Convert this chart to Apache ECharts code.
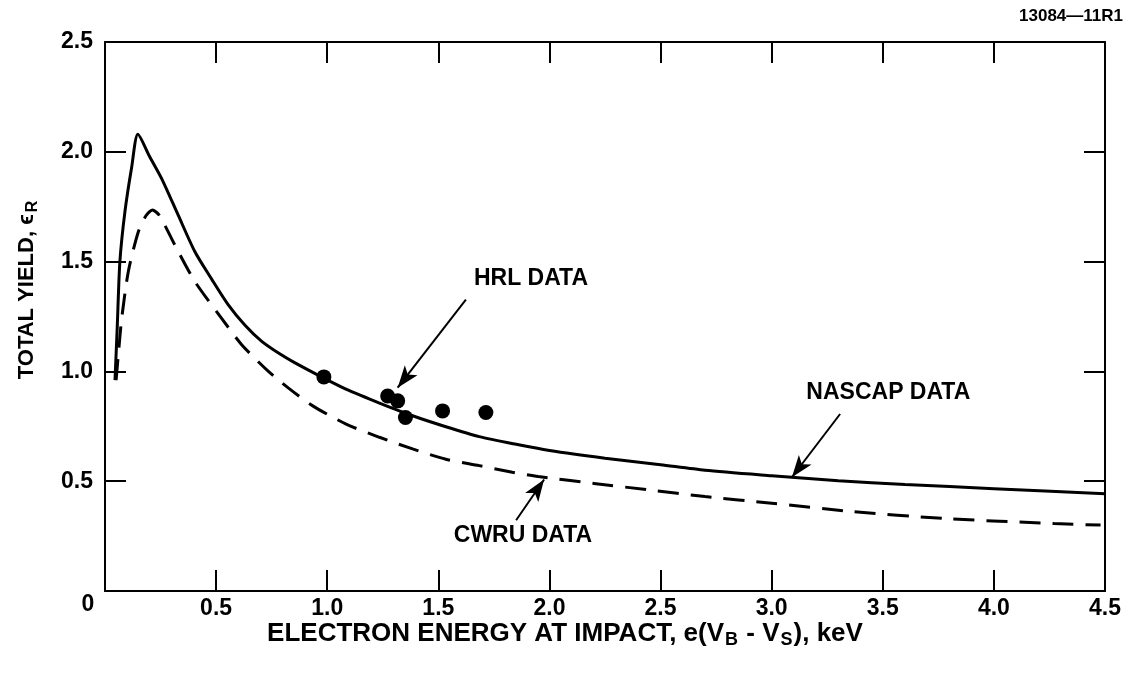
<!DOCTYPE html>
<html>
<head>
<meta charset="utf-8">
<script src="https://cdn.jsdelivr.net/npm/echarts@6/dist/echarts.min.js"></script>
<style>
html,body{margin:0;padding:0;background:#fff;}
#c{width:1135px;height:676px;}
</style>
</head>
<body>
<div id="c"></div>
<script>
// ---- data ----
const xTicks = [0, 0.5, 1.0, 1.5, 2.0, 2.5, 3.0, 3.5, 4.0, 4.5];
const yTicks = [0, 0.5, 1.0, 1.5, 2.0, 2.5];

const nascapX = [0.045, 0.055, 0.067, 0.09, 0.12, 0.148, 0.2, 0.255, 0.33, 0.404, 0.48, 0.554, 0.63, 0.704, 0.786, 0.853, 0.98, 1.1, 1.235, 1.384, 1.534, 1.684, 1.85, 2.0, 2.25, 2.5, 2.7, 3.0, 3.3, 3.6, 4.0, 4.5];
const nascapY = [0.96, 1.2, 1.50, 1.73, 1.93, 2.08, 1.98, 1.878, 1.71, 1.546, 1.42, 1.304, 1.21, 1.138, 1.08, 1.04, 0.972, 0.912, 0.856, 0.798, 0.748, 0.703, 0.668, 0.64, 0.605, 0.575, 0.55, 0.525, 0.502, 0.485, 0.466, 0.443];

const cwruX = [0.05, 0.062, 0.075, 0.105, 0.15, 0.185, 0.213, 0.245, 0.314, 0.404, 0.524, 0.614, 0.733, 0.823, 0.935, 1.085, 1.235, 1.384, 1.534, 1.684, 1.833, 1.95, 2.2, 2.45, 2.7, 3.0, 3.35, 3.78, 4.27, 4.48];
const cwruY = [0.96, 1.1, 1.24, 1.455, 1.636, 1.71, 1.735, 1.71, 1.576, 1.41, 1.243, 1.123, 1.002, 0.926, 0.843, 0.76, 0.70, 0.647, 0.60, 0.571, 0.541, 0.521, 0.49, 0.46, 0.43, 0.40, 0.363, 0.33, 0.307, 0.30];

const hrlX = [0.985, 1.272, 1.317, 1.352, 1.519, 1.714];
const hrlY = [0.975, 0.888, 0.866, 0.79, 0.82, 0.813];

// annotations (data coordinates)
const annoText = ['HRL DATA', 'NASCAP DATA', 'CWRU DATA'];
const annoTextPos = [[1.917, 1.423], [3.525, 0.902], [1.881, 0.254]];
const annoArrowFrom = [[1.624, 1.327], [3.308, 0.806], [1.85, 0.322]];
const annoArrowTo = [[1.317, 0.926], [3.091, 0.518], [1.976, 0.508]];

const zip = (a, b) => a.map((v, i) => [v, b[i]]);
const FONT = '"Liberation Sans", Arial, Helvetica, sans-serif';

const chart = echarts.init(document.getElementById('c'), null, {renderer: 'canvas'});

const axisLineStyle = {color: '#000', width: 2};
const tickStyle = {show: true, inside: true, length: 21, lineStyle: {color: '#000', width: 2}};

const option = {
  backgroundColor: '#fff',
  animation: false,
  grid: {left: 105, top: 42, right: 30, bottom: 85, containLabel: false},
  xAxis: [{
    type: 'value', min: 0, max: 4.5, interval: 0.5, position: 'bottom',
    axisLine: {show: true, onZero: false, lineStyle: axisLineStyle},
    axisTick: tickStyle,
    splitLine: {show: false},
    axisLabel: {
      show: true, margin: 6, color: '#000', fontSize: 23, fontWeight: 'bold', fontFamily: FONT,
      formatter: v => (v === 0 ? '' : v.toFixed(1))
    }
  }, {
    type: 'value', min: 0, max: 4.5, interval: 0.5, position: 'top',
    axisLine: {show: true, onZero: false, lineStyle: axisLineStyle},
    axisTick: tickStyle, axisLabel: {show: false}, splitLine: {show: false}
  }],
  yAxis: [{
    type: 'value', min: 0, max: 2.5, interval: 0.5, position: 'left',
    axisLine: {show: true, onZero: false, lineStyle: axisLineStyle},
    axisTick: tickStyle,
    splitLine: {show: false},
    axisLabel: {
      show: true, margin: 12, color: '#000', fontSize: 23, fontWeight: 'bold', fontFamily: FONT,
      formatter: v => (v === 0 ? '' : v.toFixed(1))
    }
  }, {
    type: 'value', min: 0, max: 2.5, interval: 0.5, position: 'right',
    axisLine: {show: true, onZero: false, lineStyle: axisLineStyle},
    axisTick: tickStyle, axisLabel: {show: false}, splitLine: {show: false}
  }],
  series: [{
    name: 'NASCAP DATA', type: 'line', data: zip(nascapX, nascapY),
    showSymbol: false, smooth: 0.25,
    lineStyle: {color: '#000', width: 3}, z: 3,
    markLine: {
      silent: true, animation: false,
      symbol: ['none', 'arrow'], symbolSize: [12, 22],
      label: {show: false},
      lineStyle: {color: '#000', width: 2, type: 'solid'},
      emphasis: {disabled: true},
      data: annoArrowFrom.map((f, i) => [{coord: f}, {coord: annoArrowTo[i]}])
    }
  }, {
    name: 'CWRU DATA', type: 'line', data: zip(cwruX, cwruY),
    showSymbol: false, smooth: 0.25,
    lineStyle: {color: '#000', width: 3, type: [21, 12]}, z: 3
  }, {
    name: 'HRL DATA', type: 'scatter', data: zip(hrlX, hrlY),
    symbol: 'circle', symbolSize: 15,
    itemStyle: {color: '#000', opacity: 1}, z: 4
  }]
};
chart.setOption(option);

const BOLD = 'bold ';
// text annotations placed via the chart's own coordinate conversion
const graphics = annoText.map((t, i) => {
  const p = chart.convertToPixel({gridIndex: 0}, annoTextPos[i]);
  return {
    type: 'text', x: p[0], y: p[1],
    style: {text: t, font: BOLD + '23px ' + FONT, fill: '#000', align: 'center', verticalAlign: 'middle'}
  };
});
const corner = chart.convertToPixel({gridIndex: 0}, [0, 0]);
graphics.push({
  type: 'text', x: corner[0] - 17, y: corner[1] + 14,
  style: {text: '0', font: BOLD + '23px ' + FONT, fill: '#000', align: 'center', verticalAlign: 'middle'}
});
graphics.push({
  type: 'text', x: 1071, y: 16,
  style: {text: '13084\u201411R1', font: 'bold 17px ' + FONT, fill: '#000', align: 'center', verticalAlign: 'middle'}
});
graphics.push({
  type: 'text', x: 565, y: 634,
  style: {
    text: 'ELECTRON ENERGY AT IMPACT, e(V{s|B} - V{s|S}), keV',
    font: BOLD + '26px ' + FONT, fill: '#000', align: 'center', verticalAlign: 'middle',
    rich: {s: {fontSize: 18, fontWeight: 'bold', fontFamily: FONT, fill: '#000', padding: [13, 1, 0, 1]}}
  }
});
graphics.push({
  type: 'text', x: 27, y: 290, rotation: Math.PI / 2,
  style: {
    text: 'TOTAL YIELD, \u03f5{s|R}',
    font: BOLD + '22px ' + FONT, fill: '#000', align: 'center', verticalAlign: 'middle',
    rich: {s: {fontSize: 16, fontWeight: 'bold', fontFamily: FONT, fill: '#000', padding: [12, 0, 0, 2]}}
  }
});
chart.setOption({graphic: graphics});
</script>
</body>
</html>
